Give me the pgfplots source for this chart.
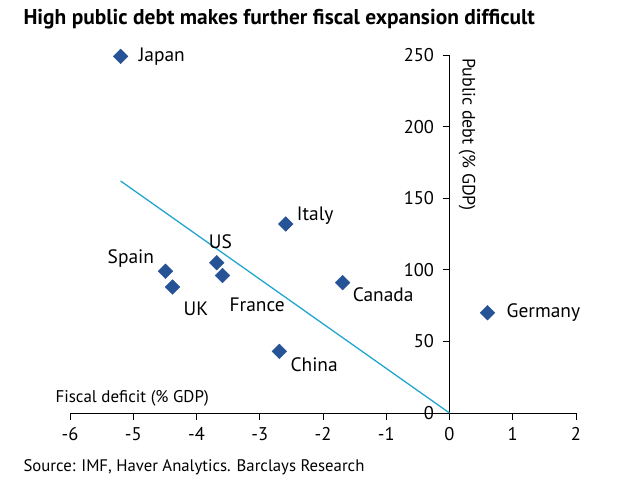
\documentclass[border=0pt]{standalone}
\usepackage{pgfplots}
\usepackage{pgfplotstable}
\pgfplotsset{compat=1.18}
\usepackage{fontspec}
\setmainfont{PT Sans}

\definecolor{markblue}{RGB}{38,82,150}
\definecolor{trendcyan}{RGB}{34,166,206}

% fiscal balance (% GDP), public debt (% GDP), label and label offset in bp
\pgfplotstableread{
x      y    name     dx   dy
-5.20  249  Japan    18    0
-2.59  132  Italy    11    8
-3.68  105  US       -8   21
-3.59   96  France    7  -29
-4.49   99  Spain   -58   13
-4.38   88  UK       11  -22
-1.69   91  Canada   10  -12
 0.60   70  Germany  19    0
-2.69   43  China    11  -13
}\debt

\begin{document}
\begin{tikzpicture}[x=1bp,y=1bp]
\useasboundingbox (0,0) rectangle (625,-499);
\node[anchor=west, font=\bfseries\fontsize{21.5}{24}\selectfont] at (20,-19)
  {High public debt makes further fiscal expansion difficult};
\begin{axis}[
  at={(70bp,-413bp)}, anchor=south west,
  scale only axis, width=506bp, height=358bp,
  xmin=-6, xmax=2, ymin=0, ymax=250,
  axis lines=middle,
  axis line style={-, black, line width=0.9bp},
  xtick={-6,-5,...,2}, ytick={0,50,...,250},
  tick align=outside, major tick length=7bp,
  hide obscured x ticks=false, hide obscured y ticks=false,
  tick style={black, line width=0.9bp},
  /pgf/number format/assume math mode=true,
  ticklabel style={font=\fontsize{18.5}{20}\selectfont},
  xticklabel style={yshift=-4bp},
  yticklabel style={xshift=-5bp},
  clip=false,
]
\addplot[trendcyan, line width=1.3bp] coordinates {(-5.2,162) (0,0)};
\addplot[only marks, mark=square*, mark size=5.2bp,
  mark options={rotate=45, fill=markblue, draw=markblue},
  nodes near coords, point meta=explicit symbolic,
  visualization depends on={\thisrow{dx} \as \dx},
  visualization depends on={\thisrow{dy} \as \dy},
  nodes near coords style={anchor=west, inner sep=0pt, xshift=\dx bp, yshift=\dy bp,
    font=\fontsize{19.5}{21}\selectfont, text=black},
] table[x=x, y=y, meta=name] {\debt};
\end{axis}
\node[anchor=west, font=\fontsize{17}{19}\selectfont] at (52,-398) {Fiscal deficit (\% GDP)};
\node[anchor=west, rotate=-90, font=\fontsize{18}{20}\selectfont] at (467,-55) {Public debt (\% GDP)};
\node[anchor=west, font=\fontsize{16.8}{18}\selectfont] at (20,-467) {Source: IMF, Haver Analytics. Barclays Research};
\end{tikzpicture}
\end{document}
